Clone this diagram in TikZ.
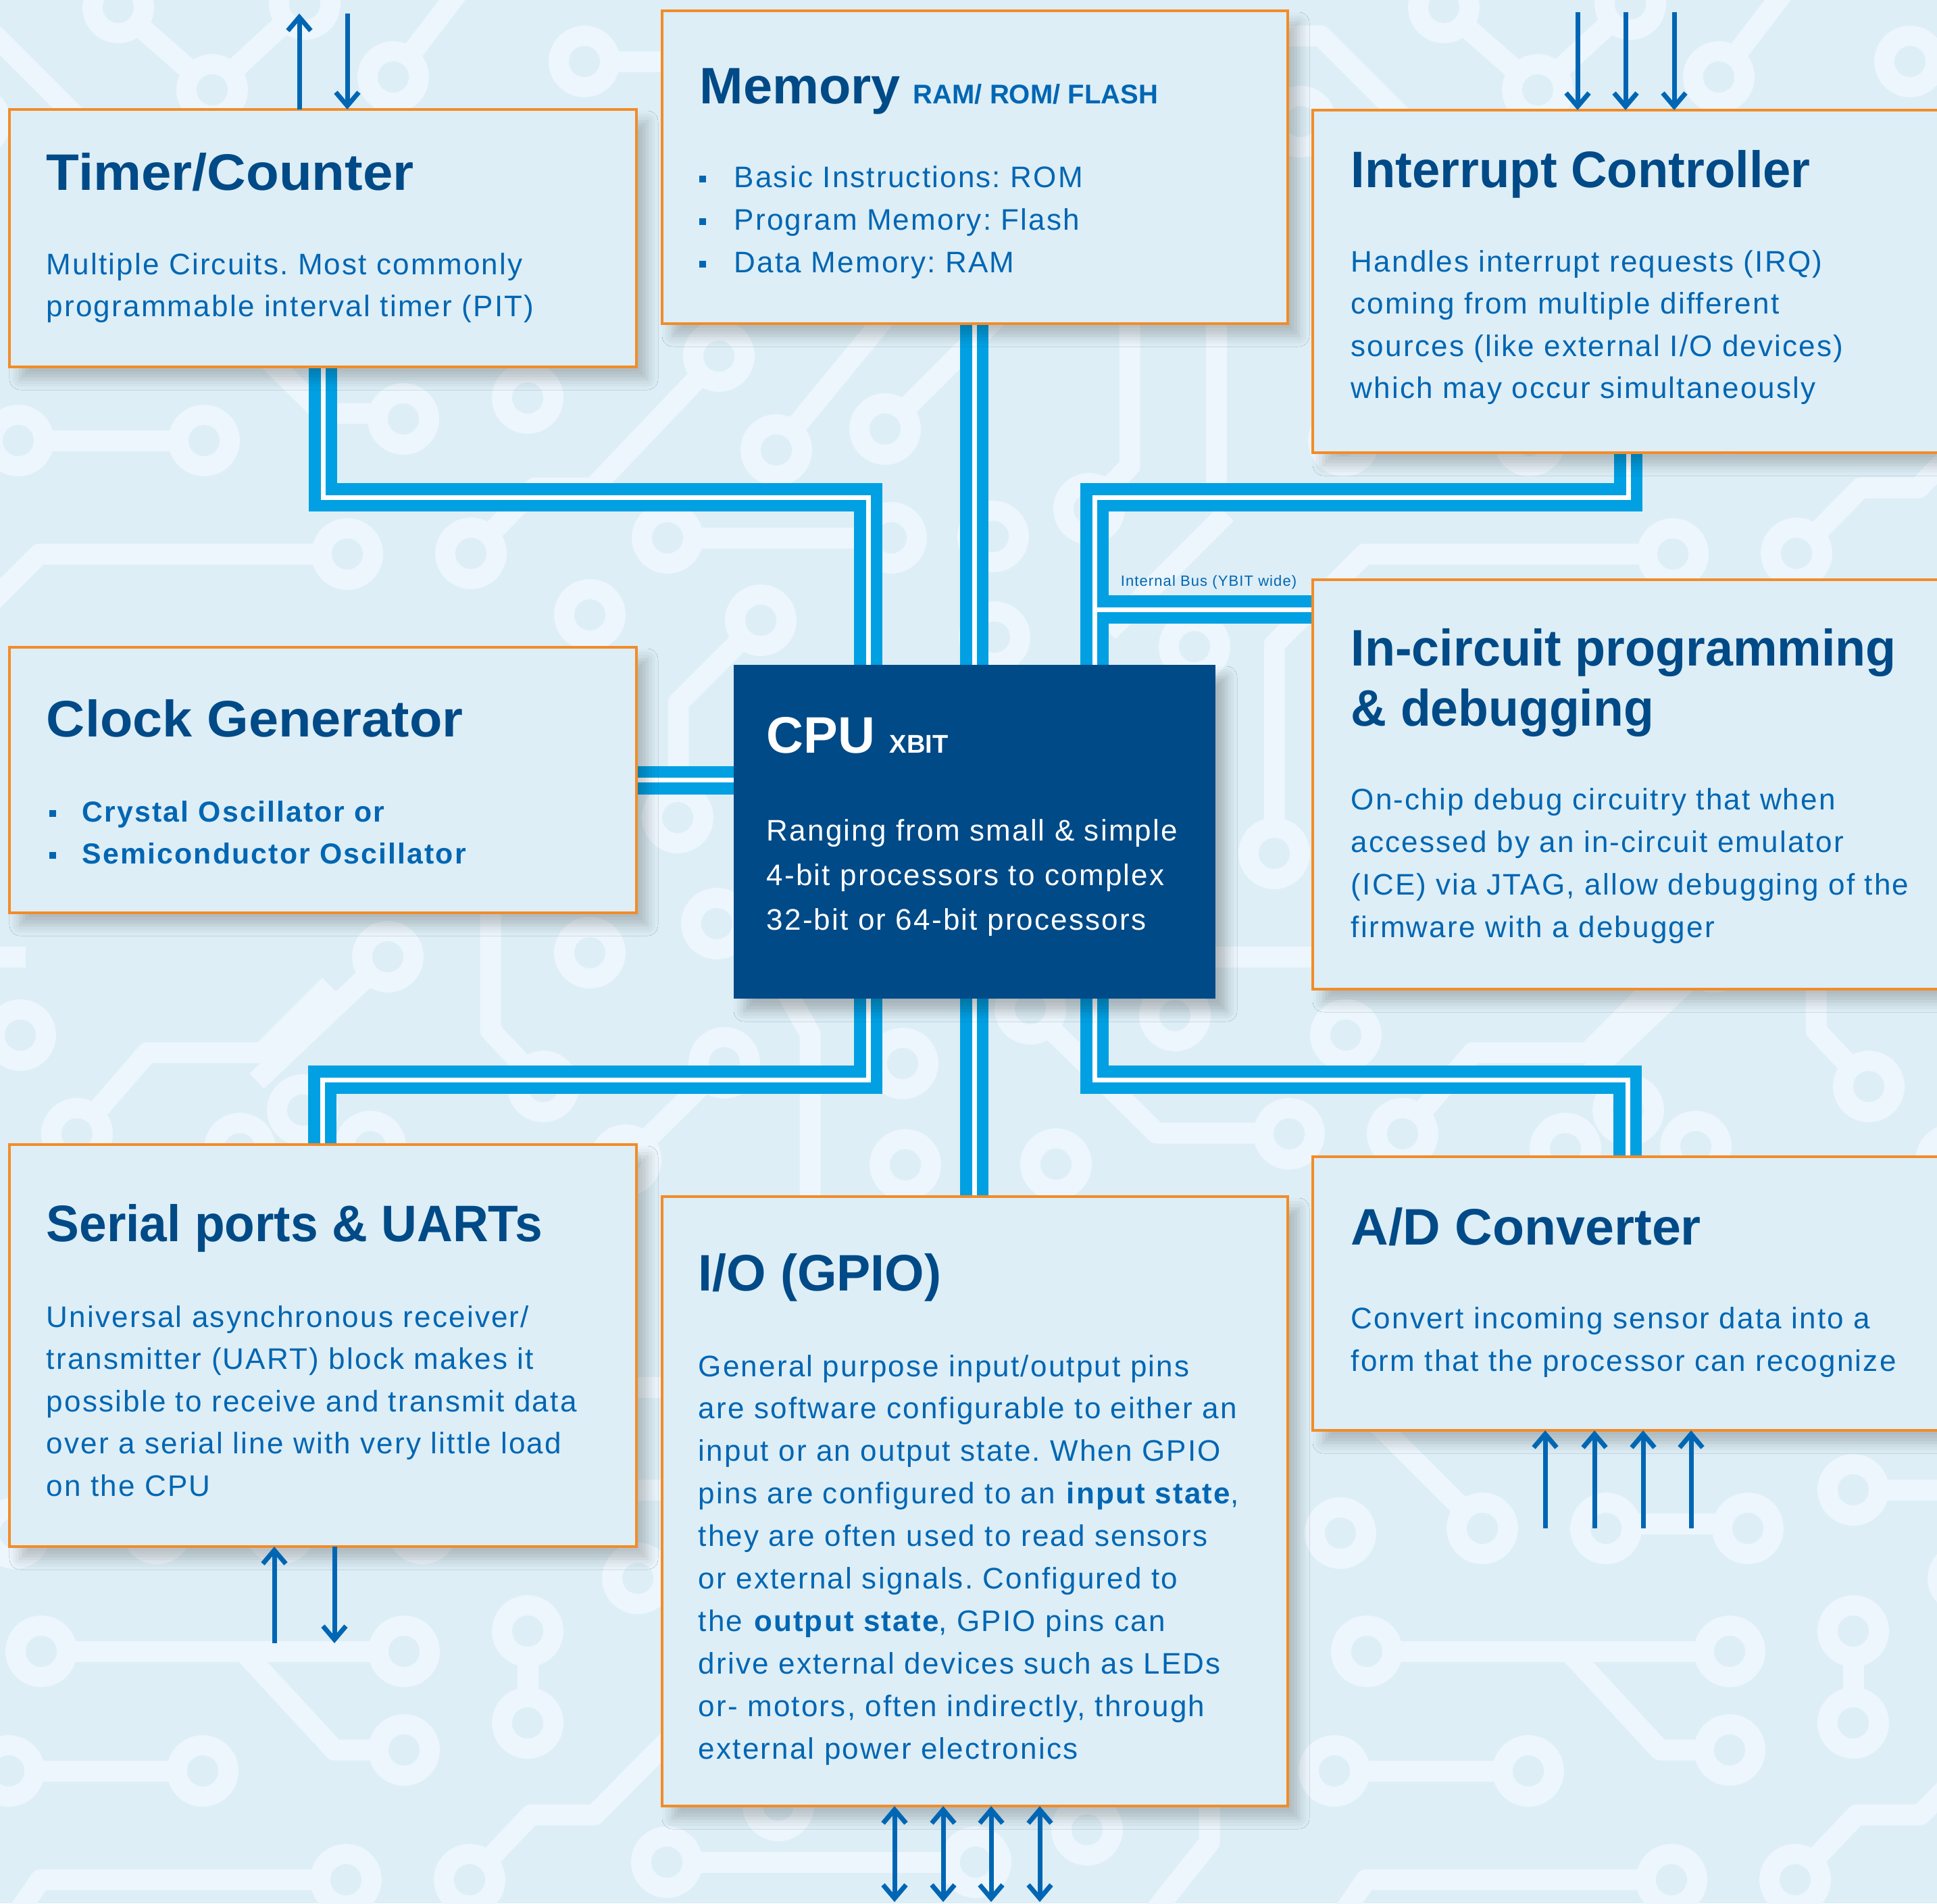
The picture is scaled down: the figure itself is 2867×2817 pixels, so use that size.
\documentclass[tikz,border=0pt]{standalone}
\usepackage{graphicx}
\usepackage{fontspec}
\setmainfont{Liberation Sans}
\newfontfamily\bodyfont[LetterSpace=5.0]{Liberation Sans}
\newfontfamily\headfont{Liberation Sans}
\usetikzlibrary{arrows.meta,shadows.blur}
\definecolor{bg}{RGB}{221,238,246}
\definecolor{tracec}{RGB}{236,246,252}
\definecolor{boxorange}{RGB}{242,140,40}
\definecolor{navy}{RGB}{0,74,135}
\definecolor{txtblue}{RGB}{0,102,179}
\definecolor{busblue}{RGB}{0,160,227}
\newcommand\pad[2]{\fill[tracec] (#1,#2) circle[radius=53]; \fill[bg] (#1,#2) circle[radius=23];}
\newcommand\mkbox[5]{\path node[geom, minimum width={(#4-#2)*0.25pt}, minimum height={(#5-#3)*0.25pt}] (#1) at (#2,#3) {};}
\newcommand\paintbox[2][box]{\path[#1] (#2.north west) rectangle (#2.south east);}
\newcommand\txtlines[6][bdy]{\foreach \myl [count=\myi] in {#6}{\node[#1] (#2\myi) at (#3,{#4+(\myi-1)*#5}) {\myl};}}
\newcommand\tsc[2]{\scalebox{#1}[1]{#2}}
\newcommand\buspaths[1]{%
  \draw[#1] (timer.south) |- (tb) -- (tb |- cpu.north);
  \draw[#1] (memory.south -| mx) -- (cpu.north -| mx);
  \draw[#1] (irq.south -| ib) -- (ib) -- (rb) -- (rb |- cpu.north);
  \draw[#1] (ibus -| incircuit.west) -- (ibus);
  \draw[#1] (clock.east) -- (clock.east -| cpu.west);
  \draw[#1] (cpu.south -| sb) -- (sb) -- (sx) -- (sx |- serial.north);
  \draw[#1] (cpu.south -| mx) -- (io.north -| mx);
  \draw[#1] (cpu.south -| ab) -- (ab) -- (ax) -- (ax |- adc.north);
}
\tikzset{
  tr/.style={line width=7.75pt, color=tracec, line join=round},
  geom/.style={shape=rectangle, anchor=north west, inner sep=0pt, outer sep=0pt},
  box/.style={draw=boxorange, line width=1pt, fill=bg,
    blur shadow={shadow xshift=4pt, shadow yshift=-4.5pt, shadow blur radius=4pt, shadow opacity=22}},
  cpubox/.style={fill=navy,
    blur shadow={shadow xshift=4pt, shadow yshift=-4.5pt, shadow blur radius=4pt, shadow opacity=25}},
  ttl/.style={font=\headfont\bfseries\fontsize{19}{22}\selectfont, text=navy, anchor=base west, inner sep=0pt},
  sub/.style={font=\headfont\bfseries\fontsize{10}{12}\selectfont, text=txtblue, anchor=base west, inner sep=0pt},
  bdy/.style={font=\bodyfont\frenchspacing\fontsize{11}{13}\selectfont, text=txtblue, anchor=base west, inner sep=0pt},
  bdyb/.style={bdy, font=\bodyfont\frenchspacing\bfseries\fontsize{10.7}{13}\selectfont},
  cputtl/.style={ttl, text=white},
  cpusub/.style={sub, text=white, font=\headfont\bfseries\fontsize{9.5}{12}\selectfont},
  cpubdy/.style={bdy, text=white, font=\bodyfont\frenchspacing\fontsize{11}{13}\selectfont},
  bullet/.style={fill=txtblue, minimum size=2.6pt, inner sep=0pt},
  arr/.style={draw=txtblue, line width=1.75pt, >={Straight Barb[length=5pt,width=8.5pt]}},
  buslbl/.style={font=\bodyfont\fontsize{5.5}{7}\selectfont, text=txtblue, anchor=base west, inner sep=0pt}
}
\begin{document}
\begin{tikzpicture}[x=0.25pt,y=-0.25pt]
\useasboundingbox (0,0) rectangle (2867,2817);
% ---------- background pattern ----------
\begin{scope}
\clip (0,0) rectangle (2867,2817);
\fill[bg] (0,0) rectangle (2867,2817);
\foreach \s in {-1962,0,1962}{
\begin{scope}[xshift=\s*0.25pt]
 \draw[tr] (175,11)--(314,133);
 \draw[tr] (451,6)--(314,133);
 \draw[tr] (700,-40)--(582,114);
 \draw[tr] (1870,53)--(1955,53)--(2080,178);
 \draw[tr] (865,91)--(1000,91);
 \draw[tr] (27,652)--(302,652);
 \draw[tr] (380,515)--(478,612)--(597,612);
 \draw[tr] (697,819)--(792,722)--(878,722)--(1064,527);
 \draw[tr] (1149,666)--(1310,470);
 \draw[tr] (1310,635)--(1475,470);
 \draw[tr] (1886,1263)--(1886,954)--(2020,820)--(2476,820);
 \draw[tr] (988,796)--(1319,796);
 \draw[tr] (1126,918)--(1004,1040)--(1004,1210);
 \draw[tr] (726,1340)--(726,1525)--(804,1608);
 \draw[tr] (1072,1573)--(926,1717);
 \draw[tr] (1160,1460)--(1199,1530)--(1199,1790);
 \draw[tr] (574,1416)--(380,1600);
 \draw[tr] (1525,1493)--(1712,1677)--(1908,1677);
 \draw[tr] (2076,1678)--(2180,1558)--(2350,1558)--(2450,1458);
 \draw[tr] (1672,470)--(1672,690)--(1612,753);
 \draw[tr] (1800,470)--(1800,730);
 \draw[tr] (1815,760)--(1640,935);
 \draw[tr] (1790,1416)--(2000,1416);
 \draw[tr] (900,2053)--(1000,2053);
 \draw[tr] (781,2205)--(1000,2205);
 \draw[tr] (60,2090)--(232,2262);
 \draw[tr] (415,2255)--(625,2255);
 \draw[tr] (61,2444)--(598,2444);
 \draw[tr] (360,2444)--(495,2590)--(598,2590);
 \draw[tr] (781,2414)--(781,2550);
 \draw[tr] (13,2621)--(300,2621);
 \draw[tr] (512,2782)--(60,2782)--(20,2840);
 \draw[tr] (695,2782)--(786,2686)--(880,2686)--(995,2570);
 \draw[tr] (987,2756)--(1444,2756);
 \draw[tr] (1790,2640)--(1790,2727)--(1700,2840);
 \foreach \px/\py in {175/11,314/133,451/6,582/114,865/91,1925/180,27/652,302/652,597/620,781/589,
   1064/527,1149/666,1310/635,514/820,697/819,988/796,1319/796,1470/794,1472/943,873/910,1126/918,
   1003/1210,1612/753,1768/957,1886/1263,2476/820,2076/1678,574/1416,873/1410,1061/1367,804/1608,
   1072/1573,926/1717,1336/1574,1340/1724,448/1643,548/1697,1525/1493,1739/1503,1992/1532,1908/1678,
   1563/1723,2317/1700,944/2336,
   22/2269,232/2262,415/2262,625/2262,781/2205,
   61/2444,598/2444,781/2414,781/2550,598/2590,13/2621,300/2621,512/2782,695/2782,
   987/2756,1444/2756,1609/2708,1152/2672}{\pad{\px}{\py}}
\end{scope}}
\end{scope}
% ---------- box geometry (named nodes) ----------
\mkbox{timer}{14}{162}{942}{543}
\mkbox{memory}{980}{16}{1906}{479}
\mkbox{irq}{1943}{163}{2920}{670}
\mkbox{clock}{14}{958}{942}{1351}
\mkbox{cpu}{1086}{984}{1799}{1478}
\mkbox{incircuit}{1943}{858}{2920}{1464}
\mkbox{serial}{14}{1694}{942}{2289}
\mkbox{io}{980}{1771}{1906}{2673}
\mkbox{adc}{1943}{1712}{2920}{2117}
% ---------- bus coordinates ----------
\coordinate (tb) at (1285,736);
\coordinate (rb) at (1620,736);
\coordinate (ib) at (2410,736);
\coordinate (ibus) at (1620,902);
\coordinate (sb) at (1285,1598);
\coordinate (sx) at (477,1598);
\coordinate (ab) at (1620,1598);
\coordinate (ax) at (2409,1598);
\coordinate (mx) at (1442,0);
% ---------- buses ----------
\buspaths{line width=10.5pt, busblue, line join=miter}
\buspaths{line width=1.75pt, white, line join=miter}
\node[buslbl] (buslabel) at (1658,867) {Internal Bus (YBIT wide)};
% ---------- visible boxes ----------
\foreach \b in {timer,memory,irq,clock,incircuit,serial,io,adc}{\paintbox{\b}}
\paintbox[cpubox]{cpu}
% ---------- texts ----------
\node[ttl] (timerT) at (68,281) {\tsc{1.05}{Timer/Counter}};
\txtlines{timerL}{68}{406}{62.5}{Multiple Circuits. Most commonly, programmable interval timer (PIT)}
\node[ttl] (memT) at (1035,153) {\tsc{1.02}{Memory}};
\node[sub] (memS) at (1351,153) {RAM/ ROM/ FLASH};
\txtlines{memL}{1086}{277}{63.2}{Basic Instructions: ROM, Program Memory: Flash, Data Memory: RAM}
\foreach \i/\yy in {1/265,2/328,3/391}{\node[bullet] (memB\i) at (1040,\yy) {};}
\node[ttl] (irqT) at (1999,277) {\tsc{0.976}{Interrupt Controller}};
\txtlines{irqL}{1999}{402}{62.5}{Handles interrupt requests (IRQ), coming from multiple different, sources (like external I/O devices), which may occur simultaneously}
\node[ttl] (clockT) at (68,1090) {\tsc{1.043}{Clock Generator}};
\txtlines[bdyb]{clockL}{121}{1216}{62.5}{Crystal Oscillator or, Semiconductor Oscillator}
\foreach \i/\yy in {1/1204,2/1266}{\node[bullet] (clkB\i) at (78,\yy) {};}
\node[cputtl] (cpuT) at (1134,1114) {CPU};
\node[cpusub] (cpuS) at (1316,1114) {XBIT};
\txtlines[cpubdy]{cpuL}{1134}{1244}{66}{Ranging from small \& simple, 4-bit processors to complex, 32-bit or 64-bit processors}
\node[ttl] (icT1) at (1999,985) {\tsc{0.97}{In-circuit programming}};
\node[ttl] (icT2) at (1999,1074) {\tsc{0.965}{\& debugging}};
\txtlines{icL}{1999}{1198}{63}{On-chip debug circuitry that when, accessed by an in-circuit emulator, {(ICE) via JTAG, allow debugging of the}, firmware with a debugger}
\node[ttl] (serT) at (68,1837) {\tsc{0.962}{Serial ports \& UARTs}};
\txtlines{serL}{68}{1964}{62.5}{Universal asynchronous receiver/, transmitter (UART) block makes it, possible to receive and transmit data, over a serial line with very little load, on the CPU}
\node[ttl] (ioT) at (1033,1910) {\tsc{0.99}{I/O (GPIO)}};
\txtlines{ioL}{1033}{2037}{62.9}{General purpose input/output pins, are software configurable to either an, {input or an output state. When GPIO}, {pins are configured to an \textbf{input state},}, they are often used to read sensors, {or external signals. Configured to}, {the \textbf{output state}, GPIO pins can}, drive external devices such as LEDs, {or- motors, often indirectly, through}, external power electronics}
\node[ttl] (adcT) at (1999,1842) {\tsc{1.014}{A/D Converter}};
\txtlines{adcL}{1999}{1966}{63}{Convert incoming sensor data into a, form that the processor can recognize}
% ---------- arrows ----------
\coordinate (ta1) at (443,20);
\coordinate (ta2) at (514,20);
\draw[arr,->] (ta1 |- timer.north) -- (ta1);
\draw[arr,->] (ta2) -- (ta2 |- timer.north);
\foreach \xx [count=\i] in {2335,2406,2478}{
  \coordinate (ia\i) at (\xx,18);
  \draw[arr,->] (ia\i) -- (ia\i |- irq.north);}
\coordinate (sa1) at (406,2432);
\coordinate (sa2) at (495,2432);
\draw[arr,->] (sa1) -- (sa1 |- serial.south);
\draw[arr,->] (sa2 |- serial.south) -- (sa2);
\foreach \xx [count=\i] in {2287,2360,2432,2503}{
  \coordinate (aa\i) at (\xx,2262);
  \draw[arr,->] (aa\i) -- (aa\i |- adc.south);}
\foreach \xx [count=\i] in {1324,1396,1467,1539}{
  \coordinate (oa\i) at (\xx,2815);
  \draw[arr,<->] (oa\i |- io.south) -- (oa\i);}
\end{tikzpicture}
\end{document}
